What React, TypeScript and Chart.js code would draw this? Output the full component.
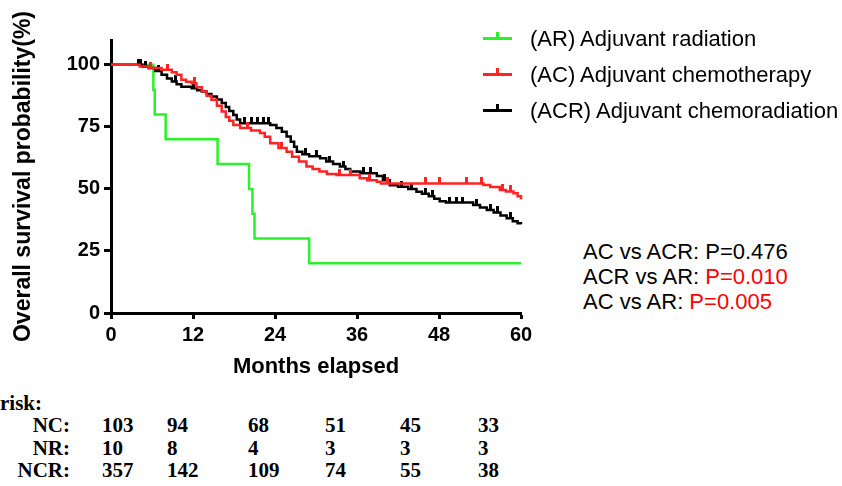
import { useEffect, useRef } from 'react'
import { Chart, registerables } from 'chart.js'

Chart.register(...registerables)

const FONT = '"Liberation Sans", Arial, sans-serif'
const SERIF = '"Liberation Serif", "Times New Roman", serif'

const xTicks = [0, 12, 24, 36, 48, 60]
const yTicks = [0, 25, 50, 75, 100]

// (AR) Adjuvant radiation
const arMonths = [0, 6.2, 6.4, 8.0, 15.6, 20.2, 20.7, 21.0, 29.0, 60]
const arSurvival = [100, 90, 80, 70, 60, 50, 40, 30, 20, 20]
const arCensored: number[] = []

// (AC) Adjuvant chemotherapy
const acMonths = [
  0, 4.2, 5.5, 7.4, 8.9, 9.6, 10.3, 11.0, 11.8, 12.5, 13.3, 14.0, 14.7, 15.5, 16.2, 16.8,
  17.3, 17.9, 18.9, 20.5, 21.8, 22.5, 23.3, 24.5, 25.7, 26.5, 27.5, 28.6, 29.5, 30.5, 31.6,
  33.0, 36.4, 37.5, 38.9, 39.5, 54.5, 55.5, 56.9, 57.8, 58.9, 59.5, 60
]
const acSurvival = [
  100, 99.3, 98.7, 98, 97, 96, 94, 93.2, 92.6, 91, 89.2, 87.5, 85.9, 83.5, 81.2, 79,
  77.5, 75.8, 74.5, 73.5, 72.5, 71, 68.4, 66.5, 65, 63, 61, 59, 58, 57, 56,
  55.6, 54.3, 53.5, 52.9, 52.2, 51.6, 50.8, 49.6, 49, 48.3, 47, 45.8
]
const acCensored = [5.8, 8.2, 12.2, 20, 25, 33.5, 35, 37.8, 40.5, 46, 48, 52, 54.2, 57.3, 58.5]

// (ACR) Adjuvant chemoradiation
const acrMonths = [
  0, 4.6, 5.5, 6.5, 7.4, 8.2, 8.9, 9.6, 10.3, 11.8, 12.6, 13.3, 14.0, 14.7, 15.5, 16.2,
  16.8, 17.3, 17.9, 18.4, 18.9, 23.3, 24.2, 25.0, 25.7, 26.3, 26.8, 27.2, 28.0, 29.0, 30.6,
  31.5, 32.5, 33.5, 34.3, 35.0, 36.5, 38.9, 39.8, 40.8, 42.0, 43.5, 44.7, 45.5, 46.5, 47.3,
  48.1, 49.0, 53.0, 54.0, 55.0, 56.0, 57.0, 57.9, 58.8, 59.5, 60
]
const acrSurvival = [
  100, 99.2, 98.7, 97.5, 96, 94.5, 93.3, 92.2, 91.2, 90.6, 89.8, 89.2, 88.2, 87.2, 86, 84.6,
  83, 81.4, 79.8, 78, 76.5, 75.8, 74.5, 73, 71.1, 69, 67, 65, 64, 63.2, 62.4,
  61, 60, 59, 58, 57, 56.3, 55.2, 53.5, 51.5, 50.9, 50, 48.9, 48, 47, 46,
  45, 44.5, 43.5, 42.5, 41.5, 40.5, 39.3, 38.2, 37, 36.2, 35.8
]
const acrCensored = [
  4.0, 4.3, 5.0, 7.0, 9.5, 12.0, 19.5, 20.5, 21.5, 22.3, 23.0, 28.5, 30.0, 32.0, 34.0, 37.0,
  38.0, 40.0, 42.5, 44.0, 46.0, 47.0, 49.5, 50.5, 51.5, 53.5, 55.5, 56.5, 58.5
]

const GREEN = '#2cf02c'
const RED = '#ff2424'
const BLACK = '#000000'

const riskCols = [102, 167, 248, 325, 400, 478]
const ncRisk = ['103', '94', '68', '51', '45', '33']
const nrRisk = ['10', '8', '4', '3', '3', '3']
const ncrRisk = ['357', '142', '109', '74', '55', '38']

function survivalAt(months: number[], surv: number[], t: number) {
  let v = surv[0]
  for (let i = 0; i < months.length; i++) {
    if (months[i] <= t) v = surv[i]
  }
  return v
}

function tickMark(color: string) {
  const c = document.createElement('canvas')
  c.width = 3
  c.height = 12
  const g = c.getContext('2d')
  if (g) {
    g.fillStyle = color
    g.fillRect(0, 0, 3, 6)
  }
  return c
}

function curve(label: string, months: number[], surv: number[], color: string) {
  return {
    label,
    data: months.map((m, i) => ({ x: m, y: surv[i] })),
    borderColor: color,
    backgroundColor: color,
    borderWidth: 2.5,
    stepped: true,
    pointRadius: 0,
    fill: false,
    clip: 6
  }
}

function censors(months: number[], surv: number[], times: number[], color: string) {
  return {
    label: '',
    data: times.map((t) => ({ x: t, y: survivalAt(months, surv, t) })),
    showLine: false,
    pointStyle: tickMark(color),
    pointRadius: 3,
    borderColor: color,
    backgroundColor: color,
    clip: 6
  }
}

function LegendMark({ color }: { color: string }) {
  return (
    <div style={{ position: 'relative', width: 29, height: 12 }}>
      <div style={{ position: 'absolute', left: 0, top: 6, width: 29, height: 2.5, background: color }} />
      <div style={{ position: 'absolute', left: 13, top: 1, width: 2.5, height: 6, background: color }} />
    </div>
  )
}

export default function App() {
  const chartRef = useRef<HTMLCanvasElement>(null)
  const chartInstance = useRef<Chart | null>(null)

  useEffect(() => {
    if (!chartRef.current) return
    if (chartInstance.current) chartInstance.current.destroy()
    const ctx = chartRef.current.getContext('2d')
    if (!ctx) return

    chartInstance.current = new Chart(ctx, {
      type: 'line',
      data: {
        datasets: [
          curve('(AC) Adjuvant chemotherapy', acMonths, acSurvival, RED),
          censors(acMonths, acSurvival, acCensored, RED),
          curve('(ACR) Adjuvant chemoradiation', acrMonths, acrSurvival, BLACK),
          censors(acrMonths, acrSurvival, acrCensored, BLACK),
          curve('(AR) Adjuvant radiation', arMonths, arSurvival, GREEN),
          censors(arMonths, arSurvival, arCensored, GREEN)
        ] as any
      },
      options: {
        animation: false,
        responsive: true,
        maintainAspectRatio: false,
        layout: { padding: { left: 0, top: 40, right: 24, bottom: 0 } },
        plugins: {
          legend: { display: false },
          tooltip: { enabled: false }
        },
        scales: {
          x: {
            type: 'linear',
            min: 0,
            max: 60,
            afterBuildTicks: (s: any) => {
              s.ticks = xTicks.map((v) => ({ value: v }))
            },
            afterFit: (s: any) => {
              s.height = 73
            },
            border: { display: true, color: BLACK, width: 3 },
            grid: { drawOnChartArea: false, drawTicks: true, tickLength: 6, tickWidth: 3, tickColor: BLACK },
            ticks: { color: BLACK, padding: 4, maxRotation: 0, font: { family: FONT, size: 20, weight: 'bold' } },
            title: {
              display: true,
              text: 'Months elapsed',
              color: BLACK,
              padding: { top: 0, bottom: 6 },
              font: { family: FONT, size: 22, weight: 'bold' }
            }
          },
          y: {
            type: 'linear',
            min: 0,
            max: 110,
            afterBuildTicks: (s: any) => {
              s.ticks = yTicks.map((v) => ({ value: v }))
            },
            afterFit: (s: any) => {
              s.width = 111
            },
            border: { display: true, color: BLACK, width: 3 },
            grid: { drawOnChartArea: false, drawTicks: true, tickLength: 7, tickWidth: 3, tickColor: BLACK },
            ticks: { color: BLACK, padding: 4, font: { family: FONT, size: 20, weight: 'bold' } },
            title: {
              display: true,
              text: 'Overall survival probability(%)',
              color: BLACK,
              padding: { top: 10, bottom: 0 },
              font: { family: FONT, size: 23, weight: 'bold' }
            }
          }
        }
      }
    })

    return () => {
      if (chartInstance.current) {
        chartInstance.current.destroy()
        chartInstance.current = null
      }
    }
  }, [])

  const legendRows = [
    { y: 39, color: GREEN, text: '(AR) Adjuvant radiation' },
    { y: 75, color: RED, text: '(AC) Adjuvant chemotherapy' },
    { y: 111, color: BLACK, text: '(ACR) Adjuvant chemoradiation' }
  ]

  const riskRows = [
    { y: 425, label: 'NC:', values: ncRisk },
    { y: 448, label: 'NR:', values: nrRisk },
    { y: 470, label: 'NCR:', values: ncrRisk }
  ]

  const textAt = (x: number, y: number, style: any, content: any, key?: any) => (
    <div key={key} style={{ position: 'absolute', left: x, top: y - 13, height: 26, lineHeight: '26px', whiteSpace: 'nowrap', ...style }}>
      {content}
    </div>
  )

  return (
    <div style={{ position: 'absolute', left: 0, top: 0, width: 842, height: 486, background: '#fff', overflow: 'hidden' }}>
      <div style={{ position: 'absolute', left: 0, top: 0, width: 545, height: 386 }}>
        <canvas ref={chartRef}></canvas>
      </div>

      {legendRows.map((r) => (
        <div key={r.text}>
          <div style={{ position: 'absolute', left: 483, top: r.y - 8 }}>
            <LegendMark color={r.color} />
          </div>
          {textAt(530, r.y, { fontFamily: FONT, fontSize: 22, color: BLACK }, r.text)}
        </div>
      ))}

      {textAt(583, 252, { fontFamily: FONT, fontSize: 22, color: BLACK }, 'AC vs ACR: P=0.476')}
      {textAt(583, 277, { fontFamily: FONT, fontSize: 22, color: BLACK }, <>ACR vs AR: <span style={{ color: '#ff0000' }}>P=0.010</span></>)}
      {textAt(583, 302, { fontFamily: FONT, fontSize: 22, color: BLACK }, <>AC vs AR: <span style={{ color: '#ff0000' }}>P=0.005</span></>)}

      {textAt(0, 403, { fontFamily: SERIF, fontSize: 21, fontWeight: 'bold', color: BLACK }, 'risk:')}
      {riskRows.map((r) => (
        <div key={r.label}>
          <div style={{ position: 'absolute', left: 0, width: 70, top: r.y - 13, lineHeight: '26px', textAlign: 'right', fontFamily: SERIF, fontSize: 21, fontWeight: 'bold' }}>
            {r.label}
          </div>
          {r.values.map((v, i) => textAt(riskCols[i], r.y, { fontFamily: SERIF, fontSize: 21, fontWeight: 'bold', color: BLACK }, v, i))}
        </div>
      ))}
    </div>
  )
}
